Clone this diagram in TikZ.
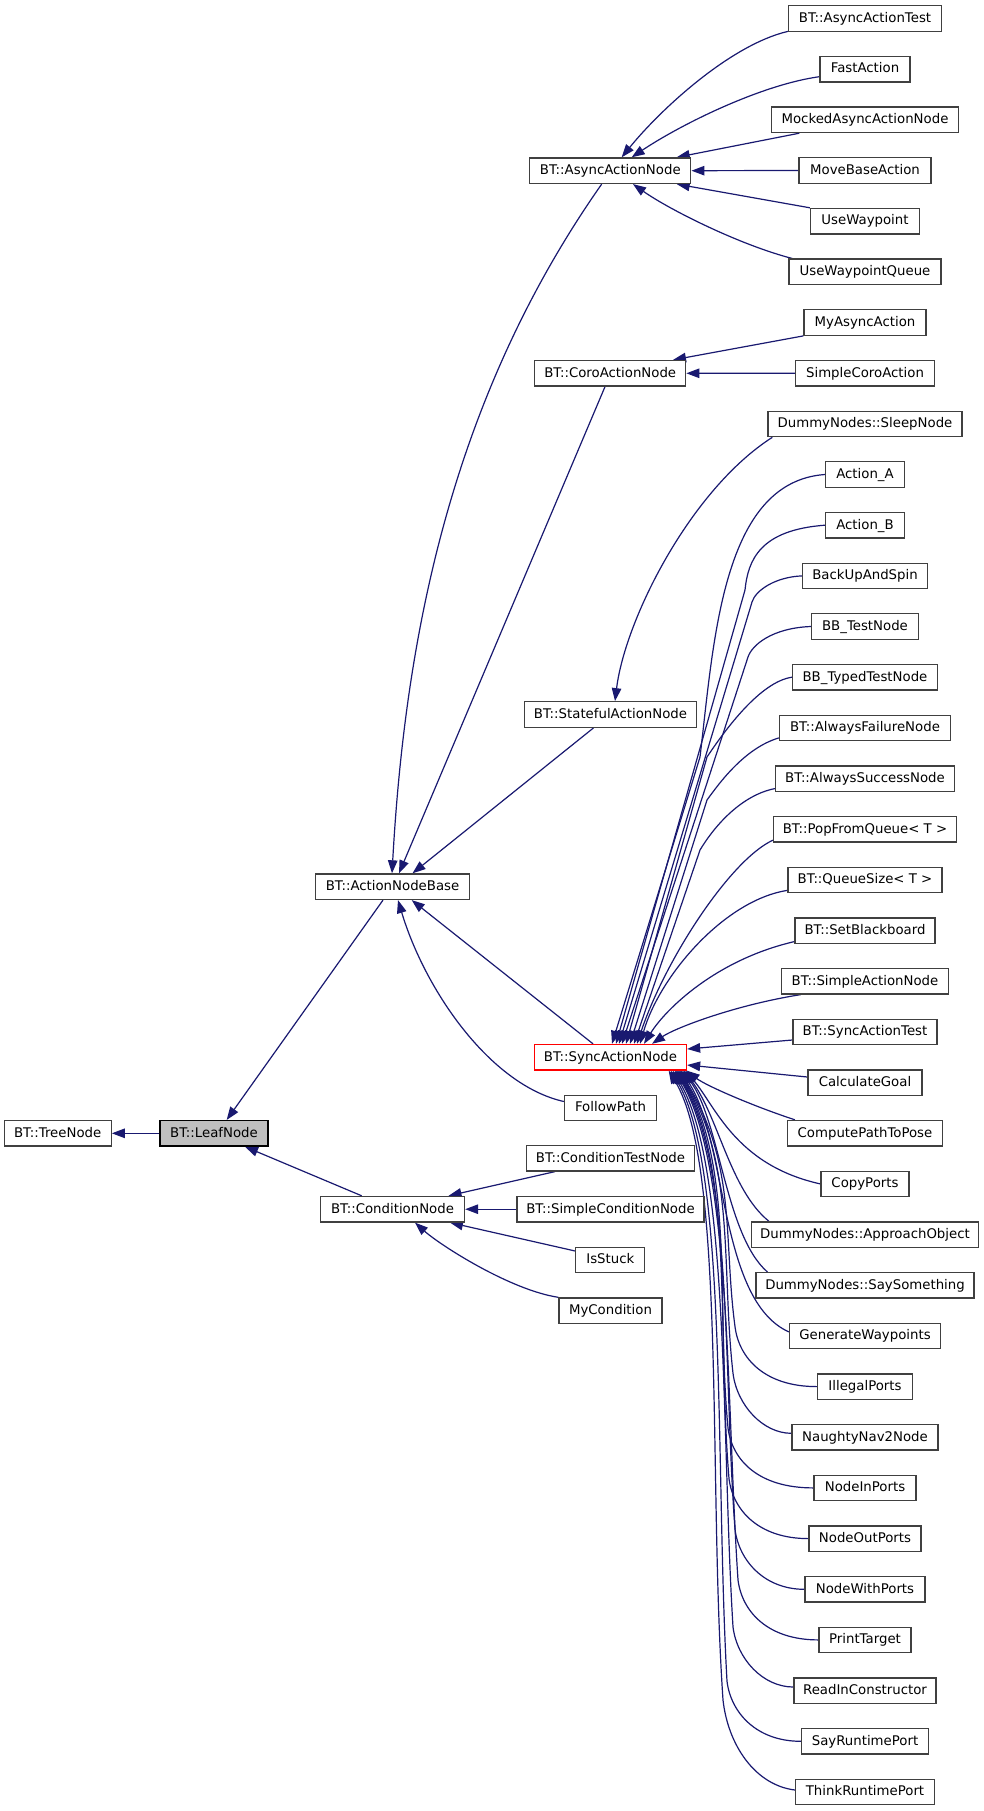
\documentclass[tikz,border=0pt]{standalone}
\usepackage{fontspec}
\setmainfont{DejaVu Sans}
\usetikzlibrary{arrows.meta,backgrounds}
\definecolor{edgeblue}{HTML}{191970}
\definecolor{boxgray}{HTML}{404040}
\definecolor{leafgray}{HTML}{BFBFBF}
\tikzset{
  box/.style={draw=boxgray, line width=1.3pt, fill=white, rectangle, minimum height=25.5pt,
    inner sep=0pt, text height=9.9pt, text depth=2.3pt, font=\fontsize{13.3pt}{16pt}\selectfont},
  edge/.style={draw=edgeblue, line width=1.2pt, {Triangle[length=13pt,width=9.5pt]}-},
}
\begin{document}
\begin{tikzpicture}[x=1pt,y=-1pt]
\useasboundingbox (0,0) rectangle (984,1811);
% left / middle nodes
\node[box, minimum width=107pt] (tree) at (57.7,1133.3) {BT::TreeNode};
\node[box, fill=leafgray, draw=black, minimum width=108pt] (leaf) at (214,1133.3) {BT::LeafNode};
\node[box, minimum width=154pt] (anb) at (392.5,886.7) {BT::ActionNodeBase};
\node[box, minimum width=144pt] (cond) at (392.5,1209.2) {BT::ConditionNode};
\node[box, minimum width=161pt] (async) at (610.3,170.7) {BT::AsyncActionNode};
\node[box, minimum width=151pt] (coro) at (610.2,373.3) {BT::CoroActionNode};
\node[box, minimum width=172pt] (stateful) at (610.5,714.5) {BT::StatefulActionNode};
\node[box, draw=red, minimum width=152pt] (sync) at (610.5,1057.2) {BT::SyncActionNode};
\node[box, minimum width=92pt] (follow) at (610.5,1108) {FollowPath};
\node[box, minimum width=168pt] (condtest) at (610.5,1158.2) {BT::ConditionTestNode};
\node[box, minimum width=187pt] (simplecond) at (610.5,1209.2) {BT::SimpleConditionNode};
\node[box, minimum width=69pt] (isstuck) at (610.3,1260) {IsStuck};
\node[box, minimum width=103pt] (mycond) at (610.5,1310.7) {MyCondition};
% right column
\node[box, minimum width=153pt] (r1) at (865,18.5) {BT::AsyncActionTest};
\node[box, minimum width=90pt] (r2) at (865,69.2) {FastAction};
\node[box, minimum width=187pt] (r3) at (865,119.8) {MockedAsyncActionNode};
\node[box, minimum width=132pt] (r4) at (865,170.5) {MoveBaseAction};
\node[box, minimum width=109pt] (r5) at (865,221.2) {UseWaypoint};
\node[box, minimum width=152pt] (r6) at (865,271.9) {UseWaypointQueue};
\node[box, minimum width=122pt] (r7) at (865,322.5) {MyAsyncAction};
\node[box, minimum width=139pt] (r8) at (865,373.2) {SimpleCoroAction};
\node[box, minimum width=194pt] (r9) at (865,423.9) {DummyNodes::SleepNode};
\node[box, minimum width=79pt] (r10) at (865,474.5) {Action\_A};
\node[box, minimum width=79pt] (r11) at (865,525.2) {Action\_B};
\node[box, minimum width=125pt] (r12) at (865,575.9) {BackUpAndSpin};
\node[box, minimum width=107pt] (r13) at (865,626.5) {BB\_TestNode};
\node[box, minimum width=145pt] (r14) at (865,677.2) {BB\_TypedTestNode};
\node[box, minimum width=171pt] (r15) at (865,727.9) {BT::AlwaysFailureNode};
\node[box, minimum width=179pt] (r16) at (865,778.6) {BT::AlwaysSuccessNode};
\node[box, minimum width=183pt] (r17) at (865,829.2) {BT::PopFromQueue< T >};
\node[box, minimum width=154pt] (r18) at (865,879.9) {BT::QueueSize< T >};
\node[box, minimum width=140pt] (r19) at (865,930.6) {BT::SetBlackboard};
\node[box, minimum width=167pt] (r20) at (865,981.2) {BT::SimpleActionNode};
\node[box, minimum width=144pt] (r21) at (865,1031.9) {BT::SyncActionTest};
\node[box, minimum width=114pt] (r22) at (865,1082.6) {CalculateGoal};
\node[box, minimum width=155pt] (r23) at (865,1133.2) {ComputePathToPose};
\node[box, minimum width=88pt] (r24) at (865,1183.9) {CopyPorts};
\node[box, minimum width=227pt] (r25) at (865,1234.6) {DummyNodes::ApproachObject};
\node[box, minimum width=218pt] (r26) at (865,1285.3) {DummyNodes::SaySomething};
\node[box, minimum width=151pt] (r27) at (865,1335.9) {GenerateWaypoints};
\node[box, minimum width=95pt] (r28) at (865,1386.6) {IllegalPorts};
\node[box, minimum width=146pt] (r29) at (865,1437.3) {NaughtyNav2Node};
\node[box, minimum width=102pt] (r30) at (865,1487.9) {NodeInPorts};
\node[box, minimum width=112pt] (r31) at (865,1538.6) {NodeOutPorts};
\node[box, minimum width=120pt] (r32) at (865,1589.3) {NodeWithPorts};
\node[box, minimum width=92pt] (r33) at (865,1639.9) {PrintTarget};
\node[box, minimum width=142pt] (r34) at (865,1690.6) {ReadInConstructor};
\node[box, minimum width=127pt] (r35) at (865,1741.3) {SayRuntimePort};
\node[box, minimum width=139pt] (r36) at (865,1791.9) {ThinkRuntimePort};

\begin{scope}[on background layer]
\fill[white] (0,0) rectangle (984,1811);
% left part
\draw[edge] (tree.east) -- (leaf.west);
\draw[edge] ([xshift=12.7pt]leaf.north) -- ([xshift=-9.5pt]anb.south);
\draw[edge] ([xshift=31pt]leaf.south) -- ([xshift=-30.8pt]cond.north);
\draw[edge] ([xshift=-0.5pt]anb.north) .. controls (405,640) and (450,400) .. ([xshift=-8.6pt]async.south);
\draw[edge] ([xshift=6.5pt]anb.north) -- ([xshift=-5.2pt]coro.south);
\draw[edge] ([xshift=20pt]anb.north) -- ([xshift=-17pt]stateful.south);
\draw[edge] ([xshift=19.2pt]anb.south) -- ([xshift=-17.5pt]sync.north);
\draw[edge] ([xshift=5.5pt]anb.south) .. controls (425,990) and (490,1085) .. ([yshift=6.5pt]follow.west);
\draw[edge] ([xshift=56pt]cond.north) -- ([xshift=-55.5pt]condtest.south);
\draw[edge] (cond.east) -- (simplecond.west);
\draw[edge] ([xshift=57.5pt]cond.south) -- ([yshift=9pt]isstuck.west);
\draw[edge] ([xshift=22.5pt]cond.south) .. controls (440,1245) and (510,1290) .. (mycond.north west);
% async children
\draw[edge] ([xshift=11.4pt]async.north) .. controls (660,110) and (730,45) .. ([yshift=0.5pt]r1.south west);
\draw[edge] ([xshift=21.4pt]async.north) .. controls (680,125) and (760,85) .. ([yshift=-7.5pt]r2.west);
\draw[edge] ([xshift=66.4pt]async.north) -- ([xshift=28.5pt]r3.south west);
\draw[edge] (async.east) -- (r4.west);
\draw[edge] ([xshift=66.4pt]async.south) -- (r5.north west);
\draw[edge] ([xshift=22.7pt]async.south) .. controls (670,210) and (740,245) .. ([xshift=4pt]r6.north west);
% coro children
\draw[edge] ([xshift=62.8pt]coro.north) -- (r7.south west);
\draw[edge] (coro.east) -- (r8.west);
% stateful child
\draw[edge] ([xshift=4.5pt]stateful.north) .. controls (625,620) and (690,490) .. ([xshift=5pt]r9.south west);
% sync children, above
\draw[edge] ([xshift=1.5pt]sync.north) -- (700,757) .. controls (714,640) and (722,482) .. (r10.west);
\draw[edge] ([xshift=5.5pt]sync.north) -- (745,590) .. controls (748,560) and (760,530) .. (r11.west);
\draw[edge] ([xshift=8.5pt]sync.north) -- (752,602) .. controls (755.5,590.5) and (775,577) .. (r12.west);
\draw[edge] ([xshift=11.5pt]sync.north) -- (748,657) .. controls (752,645) and (772,628) .. (r13.west);
\draw[edge] ([xshift=15.5pt]sync.north) -- (707,757) .. controls (725,730) and (760,682) .. (r14.west);
\draw[edge] ([xshift=19.5pt]sync.north) -- (707,800) .. controls (720,782) and (745,748) .. ([yshift=-10pt]r15.west);
\draw[edge] ([xshift=23.5pt]sync.north) -- (700,850) .. controls (715,825) and (742,795) .. ([yshift=-10pt]r16.west);
\draw[edge] ([xshift=26.5pt]sync.north) .. controls (665,960) and (730,860) .. ([yshift=-11pt]r17.west);
\draw[edge] ([xshift=29.5pt]sync.north) .. controls (660,975) and (725,900) .. ([yshift=-10.5pt]r18.west);
\draw[edge] ([xshift=33.5pt]sync.north) .. controls (665,1010) and (715,960) .. ([yshift=-11pt]r19.west);
\draw[edge] ([xshift=41.5pt]sync.north) .. controls (675,1028) and (735,1005) .. ([xshift=20pt]r20.south west);
\draw[edge] ([yshift=8.2pt]sync.east) -- ([yshift=-8.1pt]r21.west);
\draw[edge] ([yshift=-7.8pt]sync.east) -- ([yshift=5.6pt]r22.west);
% sync children, below
\draw[edge] ([xshift=-0.5pt]sync.south east) .. controls (705,1085) and (750,1105) .. ([xshift=8pt]r23.north west);
\draw[edge] ([xshift=-2pt]sync.south east) .. controls (715,1105) and (735,1165) .. (r24.west);
\draw[edge] ([xshift=-3.5pt]sync.south east) .. controls (718,1115) and (730,1190) .. ([xshift=18pt]r25.north west);
\draw[edge] ([xshift=-5pt]sync.south east) .. controls (720,1120) and (725,1235) .. ([xshift=12pt]r26.north west);
\draw[edge] ([xshift=-6.5pt]sync.south east) .. controls (728,1140) and (718,1300) .. ([yshift=4pt]r27.west);
\draw[edge] ([xshift=-7.5pt]sync.south east) .. controls (737,1165) and (723,1236.8) .. (735,1326.6) .. controls (739,1358.6) and (765,1386.6) .. (r28.west);
\draw[edge] ([xshift=-8.5pt]sync.south east) .. controls (736,1165) and (721,1267) .. (733,1373.3) .. controls (737,1405.3) and (763,1433.3) .. ([yshift=4pt]r29.west);
\draw[edge] ([xshift=-9.5pt]sync.south east) .. controls (735,1165) and (716,1302.6) .. (728,1427.9) .. controls (732,1459.9) and (758,1487.9) .. (r30.west);
\draw[edge] ([xshift=-10.5pt]sync.south east) .. controls (734,1165) and (717,1335.6) .. (729,1478.6) .. controls (733,1510.6) and (759,1538.6) .. (r31.west);
\draw[edge] ([xshift=-11.5pt]sync.south east) .. controls (733,1165) and (723,1368.5) .. (735,1529.3) .. controls (739,1561.3) and (765,1589.3) .. (r32.west);
\draw[edge] ([xshift=-12.5pt]sync.south east) .. controls (732,1165) and (726,1401.4) .. (738,1579.9) .. controls (742,1611.9) and (768,1639.9) .. (r33.west);
\draw[edge] ([xshift=-14.5pt]sync.south east) .. controls (730,1165) and (721,1432) .. (733,1627) .. controls (737,1659) and (763,1687) .. ([yshift=3.6pt]r34.west);
\draw[edge] ([xshift=-16.5pt]sync.south east) .. controls (728,1165) and (715,1467.3) .. (727,1681.3) .. controls (731,1713.3) and (757,1741.3) .. (r35.west);
\draw[edge] ([xshift=-18.5pt]sync.south east) .. controls (726,1165) and (708,1479.5) .. (723,1700) .. controls (728,1745) and (755,1785) .. ([yshift=1.9pt]r36.west);
\end{scope}
\end{tikzpicture}
\end{document}
